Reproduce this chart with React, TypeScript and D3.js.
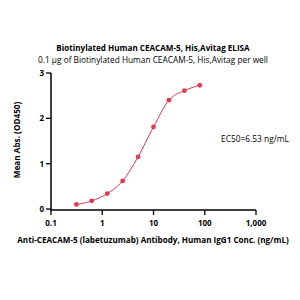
import React from "react";
import * as d3 from "d3";

const conc = [0.3125, 0.625, 1.25, 2.5, 5, 10, 20, 40, 80];
const absVals = [0.1, 0.18, 0.34, 0.62, 1.15, 1.81, 2.4, 2.61, 2.73];
const xTicks = [0.1, 1, 10, 100, 1000];
const xTickLabels = ["0.1", "1", "10", "100", "1,000"];
const yTicks = [0, 1, 2, 3];

const title = "Biotinylated Human CEACAM-5, His,Avitag ELISA";
const subtitle = "0.1 \u00b5g of Biotinylated Human CEACAM-5, His,Avitag per well";
const xLabel = "Anti-CEACAM-5 (labetuzumab) Antibody, Human IgG1 Conc. (ng/mL)";
const yLabel = "Mean Abs. (OD450)";
const ec50Label = "EC50=6.53 ng/mL";

export default function App() {
  const x = d3.scaleLog().domain([0.1, 1000]).range([51, 256]);
  const y = d3.scaleLinear().domain([0, 3]).range([209, 73]);
  const red = "#e03a52";
  const font = "'Open Sans', 'Noto Sans', sans-serif";
  const line = d3
    .line<number>()
    .x((_, i) => x(conc[i]))
    .y((d) => y(d))
    .curve(d3.curveMonotoneX);
  return (
    <svg
      width={300}
      height={300}
      style={{ position: "absolute", left: 0, top: 0, background: "#fff" }}
      fontFamily={font}
    >
      <text x={153} y={51} textAnchor="middle" fontSize={8.1} fontWeight="bold">
        {title}
      </text>
      <text x={153} y={63} textAnchor="middle" fontSize={8.3}>
        {subtitle}
      </text>
      {/* y axis */}
      <line x1={51} x2={51} y1={y(3)} y2={y(0) + 1} stroke="#000" strokeWidth={1.5} />
      {yTicks.map((t) => (
        <g key={t}>
          <line x1={46} x2={51} y1={y(t)} y2={y(t)} stroke="#000" strokeWidth={1.3} />
          <text x={44} y={y(t) + 3} textAnchor="end" fontSize={8} fontWeight="bold">
            {t}
          </text>
        </g>
      ))}
      {/* x axis */}
      <line x1={50} x2={x(1000)} y1={210} y2={210} stroke="#000" strokeWidth={1.5} />
      {xTicks.map((t, i) => (
        <g key={t}>
          <line x1={x(t)} x2={x(t)} y1={210} y2={215} stroke="#000" strokeWidth={1.3} />
          <text x={x(t)} y={226} textAnchor="middle" fontSize={8} fontWeight="bold">
            {xTickLabels[i]}
          </text>
        </g>
      ))}
      <text
        transform={`translate(20,140) rotate(-90)`}
        textAnchor="middle"
        fontSize={8.2}
        fontWeight="bold"
      >
        {yLabel}
      </text>
      <text x={153} y={243} textAnchor="middle" fontSize={8.1} fontWeight="bold">
        {xLabel}
      </text>
      <path d={line(absVals) || ""} fill="none" stroke={red} strokeWidth={1} />
      {absVals.map((v, i) => (
        <circle key={i} cx={x(conc[i])} cy={y(v)} r={2.4} fill={red} />
      ))}
      <text x={221} y={142} fontSize={8.4}>
        {ec50Label}
      </text>
    </svg>
  );
}
